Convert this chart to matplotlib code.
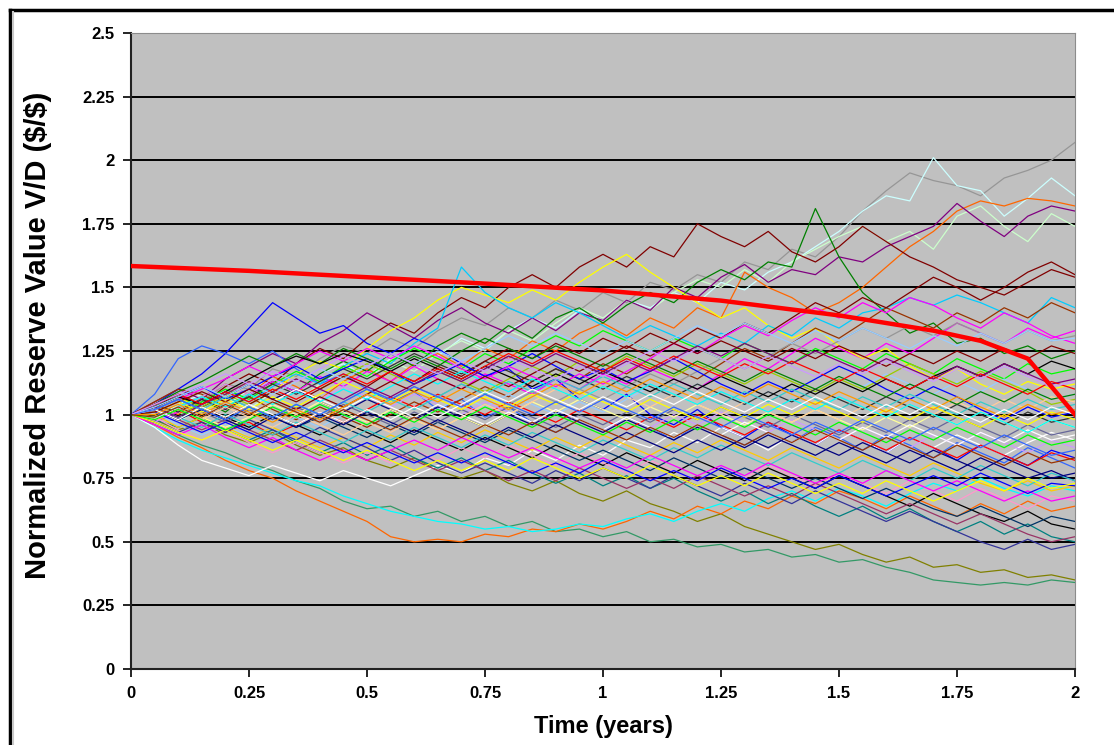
import numpy as np
import matplotlib
matplotlib.use('Agg')
from matplotlib import pyplot as plt
from matplotlib.lines import Line2D

plt.rcParams['font.family'] = ['Liberation Sans', 'DejaVu Sans']

# time grid of the simulated paths (years)
t = np.linspace(0.0, 2.0, 41)

# hand-read Monte Carlo paths (normalized reserve value)
p01 = [1.00, 1.03, 1.08, 1.05, 1.12, 1.10, 1.18, 1.15, 1.22, 1.27, 1.24, 1.30, 1.26, 1.33, 1.38, 1.35, 1.42, 1.38, 1.45, 1.41, 1.48,
       1.44, 1.52, 1.49, 1.55, 1.52, 1.60, 1.57, 1.65, 1.62, 1.70, 1.80, 1.88, 1.95, 1.92, 1.90, 1.86, 1.93, 1.96, 2.00, 2.07]
p02 = [1.00, 0.98, 1.04, 1.08, 1.03, 1.10, 1.14, 1.09, 1.16, 1.20, 1.15, 1.22, 1.27, 1.23, 1.30, 1.26, 1.33, 1.38, 1.34, 1.41, 1.37,
       1.45, 1.42, 1.48, 1.44, 1.52, 1.49, 1.56, 1.60, 1.66, 1.72, 1.80, 1.86, 1.84, 2.01, 1.90, 1.88, 1.78, 1.85, 1.93, 1.86]
p03 = [1.00, 1.02, 0.97, 1.03, 1.07, 1.02, 1.09, 1.05, 1.12, 1.18, 1.14, 1.21, 1.17, 1.24, 1.29, 1.25, 1.33, 1.29, 1.36, 1.42, 1.38,
       1.45, 1.41, 1.48, 1.53, 1.50, 1.57, 1.52, 1.60, 1.65, 1.70, 1.74, 1.68, 1.72, 1.65, 1.78, 1.82, 1.74, 1.68, 1.79, 1.74]
p04 = [1.00, 1.04, 1.00, 1.07, 1.12, 1.08, 1.15, 1.11, 1.06, 1.13, 1.18, 1.13, 1.20, 1.24, 1.19, 1.26, 1.22, 1.29, 1.25, 1.32, 1.36,
       1.31, 1.38, 1.34, 1.42, 1.38, 1.56, 1.50, 1.46, 1.40, 1.44, 1.50, 1.58, 1.66, 1.72, 1.80, 1.84, 1.82, 1.85, 1.84, 1.82]
p05 = [1.00, 1.05, 1.10, 1.06, 1.14, 1.19, 1.24, 1.20, 1.28, 1.33, 1.40, 1.35, 1.30, 1.37, 1.42, 1.36, 1.32, 1.38, 1.33, 1.40, 1.37,
       1.45, 1.41, 1.50, 1.46, 1.54, 1.59, 1.52, 1.57, 1.55, 1.62, 1.60, 1.66, 1.70, 1.74, 1.83, 1.76, 1.70, 1.78, 1.82, 1.80]
p06 = [1.00, 0.97, 1.02, 1.06, 1.01, 1.08, 1.13, 1.09, 1.16, 1.21, 1.17, 1.24, 1.19, 1.27, 1.32, 1.28, 1.35, 1.30, 1.38, 1.42, 1.36,
       1.43, 1.48, 1.44, 1.52, 1.57, 1.53, 1.60, 1.58, 1.81, 1.62, 1.48, 1.40, 1.32, 1.36, 1.28, 1.30, 1.24, 1.27, 1.22, 1.25]
p07 = [1.00, 1.03, 1.08, 1.04, 1.11, 1.16, 1.12, 1.20, 1.26, 1.22, 1.30, 1.36, 1.32, 1.40, 1.46, 1.42, 1.50, 1.55, 1.50, 1.58, 1.63,
       1.58, 1.66, 1.62, 1.75, 1.70, 1.66, 1.72, 1.64, 1.60, 1.66, 1.74, 1.68, 1.62, 1.58, 1.53, 1.50, 1.47, 1.52, 1.57, 1.54]
p08 = [1.00, 1.04, 1.10, 1.16, 1.24, 1.34, 1.44, 1.38, 1.32, 1.35, 1.28, 1.24, 1.30, 1.26, 1.20, 1.15, 1.18, 1.10, 1.14, 1.06, 1.02,
       1.08, 1.00, 0.96, 1.02, 0.95, 0.91, 0.97, 0.92, 0.88, 0.94, 0.90, 0.85, 0.91, 0.87, 0.82, 0.88, 0.84, 0.80, 0.86, 0.83]
p09 = [1.00, 1.08, 1.22, 1.27, 1.24, 1.20, 1.25, 1.18, 1.12, 1.16, 1.10, 1.05, 1.09, 1.02, 1.06, 0.99, 1.03, 0.97, 0.93, 0.98, 0.94,
       0.99, 0.95, 0.90, 0.96, 0.92, 0.88, 0.93, 0.89, 0.95, 0.91, 0.86, 0.92, 0.88, 0.83, 0.89, 0.85, 0.81, 0.87, 0.83, 0.79]
p10 = [1.00, 0.96, 0.92, 0.88, 0.85, 0.81, 0.78, 0.74, 0.71, 0.66, 0.63, 0.64, 0.60, 0.62, 0.58, 0.60, 0.56, 0.58, 0.54, 0.55, 0.52,
       0.54, 0.50, 0.51, 0.48, 0.49, 0.46, 0.47, 0.44, 0.45, 0.42, 0.43, 0.40, 0.38, 0.35, 0.34, 0.33, 0.34, 0.33, 0.35, 0.34]
p11 = [1.00, 0.98, 0.94, 0.97, 0.92, 0.89, 0.93, 0.88, 0.84, 0.87, 0.82, 0.79, 0.83, 0.78, 0.75, 0.78, 0.73, 0.70, 0.74, 0.69, 0.66,
       0.70, 0.65, 0.62, 0.58, 0.61, 0.56, 0.53, 0.50, 0.47, 0.49, 0.45, 0.42, 0.44, 0.40, 0.41, 0.38, 0.39, 0.36, 0.37, 0.35]
p12 = [1.00, 0.96, 0.91, 0.87, 0.82, 0.78, 0.75, 0.70, 0.66, 0.62, 0.58, 0.52, 0.50, 0.51, 0.50, 0.53, 0.52, 0.55, 0.54, 0.57, 0.55,
       0.58, 0.62, 0.59, 0.64, 0.61, 0.66, 0.63, 0.68, 0.65, 0.70, 0.67, 0.63, 0.68, 0.64, 0.60, 0.65, 0.61, 0.66, 0.62, 0.64]
p13 = [1.00, 0.95, 0.90, 0.86, 0.83, 0.80, 0.77, 0.74, 0.72, 0.68, 0.65, 0.62, 0.60, 0.58, 0.57, 0.55, 0.56, 0.54, 0.55, 0.57, 0.56,
       0.59, 0.61, 0.58, 0.62, 0.65, 0.62, 0.67, 0.70, 0.66, 0.71, 0.68, 0.64, 0.69, 0.73, 0.70, 0.75, 0.71, 0.68, 0.72, 0.70]
p14 = [1.00, 0.95, 0.88, 0.82, 0.79, 0.76, 0.80, 0.77, 0.74, 0.78, 0.75, 0.72, 0.76, 0.80, 0.77, 0.83, 0.80, 0.86, 0.82, 0.88, 0.84,
       0.90, 0.87, 0.93, 0.89, 0.95, 0.91, 0.86, 0.92, 0.88, 0.94, 0.90, 0.85, 0.91, 0.87, 0.92, 0.88, 0.84, 0.89, 0.93, 0.90]
p15 = [1.00, 1.02, 0.98, 1.03, 0.99, 0.95, 1.00, 0.96, 0.92, 0.97, 0.93, 0.89, 0.94, 0.90, 0.86, 0.91, 0.87, 0.83, 0.88, 0.84, 0.80,
       0.85, 0.81, 0.77, 0.82, 0.78, 0.74, 0.79, 0.75, 0.71, 0.76, 0.72, 0.68, 0.64, 0.69, 0.65, 0.61, 0.58, 0.62, 0.57, 0.55]
p16 = [1.00, 1.04, 1.08, 1.03, 1.07, 1.12, 1.06, 1.10, 1.05, 1.01, 1.06, 1.02, 0.98, 1.03, 0.99, 0.95, 1.00, 0.96, 1.01, 0.97, 0.93,
       0.98, 0.94, 0.90, 0.95, 0.91, 0.87, 0.92, 0.88, 0.84, 0.89, 0.85, 0.81, 0.86, 0.82, 0.78, 0.83, 0.79, 0.75, 0.78, 0.74]
p17 = [1.00, 0.97, 1.01, 1.06, 1.02, 1.08, 1.13, 1.09, 1.15, 1.11, 1.17, 1.13, 1.19, 1.14, 1.10, 1.16, 1.12, 1.08, 1.14, 1.10, 1.16,
       1.12, 1.18, 1.14, 1.10, 1.16, 1.22, 1.18, 1.24, 1.30, 1.26, 1.22, 1.28, 1.24, 1.30, 1.36, 1.32, 1.28, 1.34, 1.30, 1.33]
p18 = [1.00, 1.03, 1.07, 1.02, 1.08, 1.13, 1.09, 1.16, 1.21, 1.18, 1.26, 1.33, 1.38, 1.45, 1.50, 1.47, 1.44, 1.49, 1.45, 1.52, 1.58,
       1.63, 1.56, 1.50, 1.44, 1.38, 1.42, 1.35, 1.30, 1.34, 1.27, 1.22, 1.26, 1.19, 1.14, 1.18, 1.12, 1.08, 1.13, 1.10, 1.12]
p19 = [1.00, 1.02, 0.98, 1.04, 1.09, 1.05, 1.11, 1.16, 1.12, 1.19, 1.24, 1.20, 1.28, 1.34, 1.58, 1.48, 1.42, 1.38, 1.44, 1.40, 1.35,
       1.30, 1.35, 1.31, 1.27, 1.32, 1.28, 1.35, 1.31, 1.38, 1.34, 1.40, 1.42, 1.46, 1.43, 1.47, 1.44, 1.40, 1.36, 1.46, 1.42]
p20 = [1.00, 0.98, 1.02, 0.97, 0.93, 0.97, 0.92, 0.96, 1.01, 0.97, 1.02, 1.07, 1.03, 1.08, 1.04, 1.00, 1.05, 1.01, 0.97, 1.02, 0.98,
       0.94, 0.99, 0.95, 1.00, 0.96, 0.92, 0.97, 0.93, 0.89, 0.94, 0.90, 0.86, 0.91, 0.87, 0.83, 0.88, 0.84, 0.80, 0.85, 0.82]
p21 = [1.00, 1.03, 0.99, 1.05, 1.10, 1.06, 1.12, 1.17, 1.13, 1.19, 1.15, 1.21, 1.26, 1.22, 1.18, 1.24, 1.20, 1.26, 1.31, 1.27, 1.33,
       1.29, 1.25, 1.30, 1.26, 1.22, 1.28, 1.24, 1.20, 1.26, 1.22, 1.18, 1.24, 1.20, 1.16, 1.22, 1.18, 1.14, 1.20, 1.16, 1.18]
p22 = [1.00, 0.98, 0.95, 0.99, 0.94, 0.90, 0.94, 0.89, 0.85, 0.89, 0.84, 0.88, 0.83, 0.79, 0.83, 0.78, 0.82, 0.77, 0.73, 0.77, 0.72,
       0.76, 0.71, 0.75, 0.70, 0.66, 0.70, 0.65, 0.69, 0.64, 0.60, 0.64, 0.59, 0.63, 0.58, 0.54, 0.58, 0.53, 0.57, 0.52, 0.50]
p23 = [1.00, 1.05, 1.10, 1.08, 1.03, 1.07, 1.02, 0.98, 1.03, 0.99, 0.95, 1.00, 1.05, 1.01, 1.06, 1.11, 1.07, 1.13, 1.18, 1.14, 1.20,
       1.16, 1.22, 1.18, 1.14, 1.20, 1.26, 1.22, 1.28, 1.34, 1.30, 1.36, 1.42, 1.38, 1.34, 1.40, 1.36, 1.42, 1.38, 1.44, 1.40]
p24 = [1.00, 0.97, 1.02, 1.07, 1.12, 1.08, 1.14, 1.10, 1.06, 1.11, 1.07, 1.03, 1.08, 1.04, 1.00, 1.05, 1.01, 0.97, 1.02, 0.98, 0.94,
       0.99, 0.95, 1.00, 0.96, 1.01, 0.97, 0.93, 0.98, 0.94, 0.90, 0.95, 0.91, 0.87, 0.92, 0.88, 0.93, 0.89, 0.85, 0.90, 0.87]
p25 = [1.00, 1.01, 0.96, 0.92, 0.96, 0.91, 0.95, 0.99, 0.95, 1.00, 0.96, 1.01, 0.97, 1.02, 1.07, 1.03, 1.08, 1.04, 1.00, 1.05, 1.01,
       1.06, 1.11, 1.07, 1.12, 1.08, 1.04, 1.09, 1.05, 1.10, 1.15, 1.11, 1.16, 1.12, 1.08, 1.13, 1.09, 1.14, 1.10, 1.06, 1.08]
p26 = [1.00, 0.99, 0.94, 0.90, 0.94, 0.89, 0.85, 0.89, 0.85, 0.81, 0.85, 0.81, 0.86, 0.82, 0.87, 0.83, 0.88, 0.84, 0.80, 0.85, 0.81,
       0.77, 0.82, 0.78, 0.74, 0.79, 0.75, 0.80, 0.76, 0.72, 0.77, 0.73, 0.69, 0.74, 0.70, 0.66, 0.71, 0.67, 0.63, 0.68, 0.66]
p27 = [1.00, 1.02, 1.06, 1.02, 0.98, 1.03, 0.99, 0.95, 0.99, 0.95, 0.91, 0.96, 0.92, 0.97, 0.93, 0.89, 0.94, 0.90, 0.86, 0.82, 0.86,
       0.82, 0.78, 0.83, 0.79, 0.75, 0.79, 0.75, 0.71, 0.75, 0.71, 0.67, 0.71, 0.67, 0.63, 0.60, 0.64, 0.60, 0.56, 0.60, 0.58]
p28 = [1.00, 1.00, 0.95, 0.99, 0.95, 0.91, 0.95, 0.91, 0.87, 0.91, 0.87, 0.92, 0.88, 0.93, 0.89, 0.94, 0.90, 0.86, 0.91, 0.87, 0.92,
       0.88, 0.84, 0.89, 0.85, 0.90, 0.86, 0.82, 0.87, 0.83, 0.79, 0.84, 0.80, 0.76, 0.81, 0.77, 0.73, 0.70, 0.74, 0.70, 0.72]
p29 = [1.00, 1.03, 1.07, 1.03, 1.08, 1.04, 1.09, 1.14, 1.10, 1.15, 1.20, 1.16, 1.12, 1.17, 1.13, 1.09, 1.14, 1.19, 1.15, 1.21, 1.17,
       1.23, 1.19, 1.15, 1.20, 1.16, 1.12, 1.17, 1.13, 1.09, 1.14, 1.10, 1.15, 1.20, 1.16, 1.12, 1.17, 1.13, 1.09, 1.04, 1.06]
p30 = [1.00, 0.97, 0.93, 0.97, 0.93, 0.98, 0.94, 0.90, 0.95, 0.91, 0.87, 0.82, 0.86, 0.81, 0.77, 0.81, 0.77, 0.73, 0.78, 0.74, 0.79,
       0.75, 0.71, 0.76, 0.72, 0.68, 0.73, 0.69, 0.65, 0.70, 0.66, 0.62, 0.58, 0.62, 0.58, 0.54, 0.50, 0.47, 0.51, 0.47, 0.49]
p31 = [1.00, 1.02, 0.98, 0.94, 0.98, 0.94, 0.90, 0.86, 0.90, 0.86, 0.82, 0.86, 0.82, 0.78, 0.82, 0.78, 0.74, 0.78, 0.74, 0.79, 0.75,
       0.71, 0.75, 0.71, 0.76, 0.72, 0.68, 0.72, 0.68, 0.73, 0.69, 0.65, 0.61, 0.65, 0.61, 0.57, 0.61, 0.57, 0.53, 0.50, 0.52]
p32 = [1.00, 1.01, 1.05, 1.01, 0.97, 1.02, 0.98, 1.03, 0.99, 1.04, 1.00, 0.96, 1.01, 0.97, 1.02, 0.98, 1.03, 0.99, 0.95, 1.00, 0.96,
       1.01, 0.97, 1.02, 0.98, 1.03, 0.99, 0.95, 1.00, 0.96, 0.92, 0.97, 0.93, 0.98, 0.94, 0.99, 0.95, 0.91, 0.96, 0.92, 0.94]
p33 = [1.00, 0.99, 1.03, 0.99, 0.95, 0.99, 1.04, 1.00, 1.05, 1.01, 0.97, 1.02, 0.98, 0.94, 0.99, 0.95, 1.00, 1.05, 1.01, 1.06, 1.02,
       0.98, 1.03, 0.99, 1.04, 1.00, 0.96, 1.01, 0.97, 1.02, 0.98, 0.94, 0.99, 0.95, 1.00, 0.96, 1.01, 0.97, 0.93, 0.98, 0.95]
p34 = [1.00, 1.03, 0.99, 0.95, 1.00, 0.96, 0.92, 0.97, 0.93, 0.89, 0.94, 0.90, 0.95, 0.91, 0.87, 0.92, 0.88, 0.93, 0.89, 0.85, 0.90,
       0.86, 0.82, 0.87, 0.83, 0.88, 0.84, 0.80, 0.85, 0.81, 0.77, 0.82, 0.78, 0.74, 0.79, 0.75, 0.80, 0.76, 0.72, 0.77, 0.74]
p35 = [1.00, 1.04, 1.01, 1.06, 1.02, 1.07, 1.12, 1.08, 1.13, 1.18, 1.14, 1.19, 1.24, 1.20, 1.16, 1.21, 1.17, 1.13, 1.18, 1.14, 1.10,
       1.15, 1.11, 1.07, 1.12, 1.08, 1.04, 1.09, 1.05, 1.10, 1.06, 1.02, 1.07, 1.03, 0.99, 1.04, 1.00, 0.96, 1.01, 0.97, 0.99]
p36 = [1.00, 0.98, 1.02, 0.98, 1.03, 0.99, 0.95, 1.00, 0.96, 0.92, 0.97, 0.93, 0.98, 0.94, 0.99, 1.04, 1.00, 1.05, 1.10, 1.06, 1.11,
       1.07, 1.03, 1.08, 1.04, 1.00, 1.05, 1.01, 0.97, 1.02, 0.98, 1.03, 0.99, 1.04, 1.00, 1.05, 1.01, 1.06, 1.02, 1.07, 1.05]
p37 = [1.00, 0.96, 0.92, 0.96, 0.91, 0.87, 0.91, 0.86, 0.82, 0.86, 0.82, 0.86, 0.90, 0.86, 0.91, 0.87, 0.83, 0.87, 0.83, 0.79, 0.83,
       0.79, 0.84, 0.80, 0.76, 0.80, 0.76, 0.81, 0.77, 0.73, 0.77, 0.73, 0.78, 0.74, 0.70, 0.74, 0.70, 0.66, 0.70, 0.66, 0.68]
p38 = [1.00, 1.01, 0.97, 0.93, 0.97, 0.93, 0.89, 0.93, 0.89, 0.85, 0.89, 0.85, 0.81, 0.85, 0.81, 0.85, 0.81, 0.77, 0.81, 0.77, 0.82,
       0.78, 0.74, 0.78, 0.74, 0.79, 0.75, 0.71, 0.75, 0.71, 0.76, 0.72, 0.68, 0.72, 0.76, 0.72, 0.77, 0.73, 0.69, 0.73, 0.72]
p39 = [1.00, 1.02, 1.06, 1.02, 1.07, 1.03, 0.99, 1.04, 1.00, 1.05, 1.10, 1.06, 1.11, 1.07, 1.12, 1.08, 1.04, 1.09, 1.05, 1.10, 1.06,
       1.11, 1.16, 1.12, 1.17, 1.22, 1.18, 1.23, 1.28, 1.24, 1.29, 1.34, 1.30, 1.35, 1.31, 1.36, 1.32, 1.28, 1.33, 1.29, 1.31]
p40 = [1.00, 1.02, 0.98, 1.03, 0.99, 1.04, 1.09, 1.05, 1.10, 1.15, 1.11, 1.17, 1.13, 1.19, 1.15, 1.21, 1.26, 1.22, 1.28, 1.24, 1.30,
       1.26, 1.32, 1.28, 1.34, 1.30, 1.36, 1.32, 1.38, 1.44, 1.40, 1.46, 1.42, 1.48, 1.54, 1.50, 1.45, 1.50, 1.56, 1.60, 1.55]
p41 = [1.00, 0.98, 1.03, 0.99, 1.04, 1.00, 1.05, 1.10, 1.06, 1.02, 1.07, 1.03, 0.99, 1.04, 1.00, 0.96, 1.01, 0.97, 1.02, 0.98, 0.94,
       0.99, 0.95, 0.91, 0.96, 0.92, 0.97, 0.93, 0.89, 0.94, 0.90, 0.95, 0.91, 0.96, 0.92, 0.88, 0.93, 0.89, 0.94, 0.90, 0.92]
p42 = [1.00, 0.97, 0.93, 0.90, 0.94, 0.90, 0.86, 0.90, 0.86, 0.82, 0.86, 0.82, 0.78, 0.82, 0.78, 0.82, 0.78, 0.83, 0.79, 0.75, 0.79,
       0.75, 0.80, 0.76, 0.72, 0.76, 0.72, 0.77, 0.73, 0.69, 0.73, 0.69, 0.74, 0.70, 0.66, 0.70, 0.74, 0.70, 0.75, 0.71, 0.73]
p43 = [1.00, 1.03, 1.07, 1.11, 1.06, 1.10, 1.15, 1.19, 1.14, 1.18, 1.22, 1.17, 1.12, 1.16, 1.20, 1.15, 1.19, 1.24, 1.19, 1.14, 1.18,
       1.13, 1.17, 1.22, 1.17, 1.12, 1.08, 1.13, 1.09, 1.14, 1.19, 1.15, 1.10, 1.06, 1.11, 1.07, 1.02, 0.98, 1.03, 0.99, 1.01]
p44 = [1.00, 1.02, 1.06, 1.10, 1.14, 1.19, 1.15, 1.20, 1.25, 1.21, 1.26, 1.22, 1.27, 1.23, 1.18, 1.14, 1.19, 1.15, 1.11, 1.16, 1.12,
       1.17, 1.22, 1.28, 1.24, 1.30, 1.35, 1.31, 1.37, 1.42, 1.38, 1.44, 1.40, 1.46, 1.43, 1.38, 1.34, 1.40, 1.36, 1.31, 1.28]
p45 = [1.00, 1.04, 1.09, 1.13, 1.18, 1.23, 1.19, 1.24, 1.20, 1.26, 1.22, 1.18, 1.23, 1.19, 1.25, 1.30, 1.26, 1.22, 1.27, 1.23, 1.19,
       1.24, 1.20, 1.16, 1.21, 1.17, 1.13, 1.18, 1.14, 1.10, 1.15, 1.11, 1.07, 1.12, 1.08, 1.04, 1.09, 1.05, 1.10, 1.06, 1.08]
p46 = [1.00, 1.01, 1.05, 1.01, 1.06, 1.02, 1.07, 1.03, 1.08, 1.13, 1.09, 1.05, 1.10, 1.06, 1.02, 1.07, 1.03, 1.08, 1.04, 1.09, 1.05,
       1.01, 1.06, 1.02, 0.98, 1.03, 0.99, 1.04, 1.00, 1.05, 1.01, 0.97, 1.02, 0.98, 1.03, 0.99, 0.95, 1.00, 0.96, 1.01, 0.98]
p47 = [1.00, 1.03, 1.07, 1.04, 1.09, 1.14, 1.19, 1.23, 1.20, 1.24, 1.21, 1.17, 1.22, 1.18, 1.14, 1.19, 1.15, 1.11, 1.16, 1.12, 1.17,
       1.13, 1.09, 1.14, 1.10, 1.15, 1.11, 1.07, 1.12, 1.08, 1.13, 1.09, 1.14, 1.10, 1.15, 1.19, 1.15, 1.20, 1.16, 1.21, 1.18]
p48 = [1.00, 0.99, 1.03, 1.07, 1.03, 1.08, 1.04, 1.09, 1.05, 1.10, 1.06, 1.11, 1.16, 1.12, 1.17, 1.13, 1.09, 1.14, 1.10, 1.06, 1.11,
       1.07, 1.12, 1.08, 1.04, 1.09, 1.05, 1.01, 1.06, 1.02, 1.07, 1.03, 0.99, 1.04, 1.00, 0.96, 1.01, 0.97, 0.93, 0.98, 0.95]
p49 = [1.00, 1.03, 0.99, 1.04, 1.08, 1.13, 1.09, 1.14, 1.10, 1.06, 1.11, 1.07, 1.12, 1.17, 1.13, 1.18, 1.23, 1.19, 1.24, 1.20, 1.16,
       1.21, 1.17, 1.22, 1.27, 1.23, 1.28, 1.24, 1.20, 1.25, 1.21, 1.17, 1.22, 1.18, 1.14, 1.19, 1.15, 1.20, 1.16, 1.12, 1.14]
p50 = [1.00, 1.04, 1.08, 1.04, 1.09, 1.05, 1.10, 1.06, 1.11, 1.16, 1.12, 1.17, 1.13, 1.18, 1.14, 1.19, 1.24, 1.20, 1.25, 1.21, 1.17,
       1.22, 1.18, 1.23, 1.19, 1.15, 1.20, 1.16, 1.21, 1.17, 1.13, 1.18, 1.14, 1.10, 1.15, 1.11, 1.16, 1.12, 1.08, 1.13, 1.10]
p51 = [1.00, 0.98, 1.02, 0.98, 0.94, 0.98, 1.03, 0.99, 1.04, 1.00, 0.96, 1.01, 0.97, 1.02, 0.98, 1.03, 0.99, 0.95, 1.00, 0.96, 0.92,
       0.97, 0.93, 0.98, 0.94, 0.99, 0.95, 1.00, 0.96, 0.92, 0.97, 0.93, 0.89, 0.94, 0.90, 0.95, 0.91, 0.87, 0.92, 0.88, 0.90]
p52 = [1.00, 1.02, 0.98, 1.02, 0.98, 0.94, 0.99, 0.95, 1.00, 0.96, 1.01, 0.97, 0.93, 0.98, 0.94, 0.90, 0.95, 0.91, 0.96, 0.92, 0.88,
       0.93, 0.89, 0.85, 0.90, 0.86, 0.91, 0.87, 0.92, 0.88, 0.84, 0.89, 0.85, 0.81, 0.86, 0.82, 0.78, 0.83, 0.79, 0.75, 0.77]
p53 = [1.00, 1.01, 1.05, 1.09, 1.05, 1.10, 1.06, 1.02, 1.07, 1.03, 1.08, 1.13, 1.09, 1.14, 1.10, 1.15, 1.11, 1.16, 1.21, 1.17, 1.22,
       1.27, 1.23, 1.28, 1.24, 1.29, 1.25, 1.21, 1.26, 1.22, 1.27, 1.23, 1.19, 1.24, 1.20, 1.25, 1.21, 1.26, 1.22, 1.27, 1.24]
p54 = [1.00, 1.02, 1.06, 1.02, 1.07, 1.03, 0.99, 1.04, 1.00, 1.05, 1.01, 1.06, 1.02, 1.07, 1.12, 1.08, 1.13, 1.09, 1.14, 1.10, 1.15,
       1.11, 1.07, 1.12, 1.08, 1.04, 1.09, 1.05, 1.10, 1.06, 1.02, 1.07, 1.03, 1.08, 1.04, 1.00, 1.05, 1.01, 1.06, 1.02, 1.04]
p55 = [1.00, 1.00, 1.04, 1.00, 1.05, 1.01, 0.97, 1.02, 0.98, 1.03, 1.08, 1.04, 1.09, 1.05, 1.10, 1.06, 1.02, 1.07, 1.12, 1.08, 1.13,
       1.09, 1.14, 1.10, 1.06, 1.11, 1.07, 1.12, 1.08, 1.04, 1.09, 1.05, 1.01, 1.06, 1.02, 1.07, 1.03, 0.99, 1.04, 1.00, 1.02]
p56 = [1.00, 1.03, 1.07, 1.11, 1.07, 1.12, 1.08, 1.13, 1.18, 1.14, 1.19, 1.24, 1.20, 1.25, 1.21, 1.26, 1.31, 1.27, 1.32, 1.28, 1.24,
       1.29, 1.25, 1.30, 1.35, 1.31, 1.36, 1.32, 1.28, 1.33, 1.29, 1.34, 1.30, 1.26, 1.31, 1.27, 1.32, 1.28, 1.33, 1.29, 1.30]
p57 = [1.00, 1.02, 0.98, 1.03, 0.99, 1.04, 1.00, 0.96, 1.01, 0.97, 1.02, 0.98, 1.03, 0.99, 1.04, 1.09, 1.05, 1.10, 1.06, 1.02, 1.07,
       1.03, 1.08, 1.04, 1.09, 1.05, 1.01, 1.06, 1.02, 1.07, 1.03, 0.99, 1.04, 1.00, 1.05, 1.01, 0.97, 1.02, 0.98, 1.03, 1.00]
p58 = [1.00, 1.02, 1.06, 1.02, 0.98, 1.03, 0.99, 1.04, 1.00, 1.05, 1.10, 1.06, 1.11, 1.07, 1.03, 1.08, 1.04, 1.00, 1.05, 1.01, 1.06,
       1.02, 0.98, 1.03, 0.99, 0.95, 1.00, 0.96, 0.92, 0.97, 0.93, 0.98, 0.94, 0.90, 0.95, 0.91, 0.87, 0.92, 0.88, 0.84, 0.86]
p59 = [1.00, 1.04, 1.08, 1.12, 1.16, 1.12, 1.17, 1.13, 1.18, 1.23, 1.19, 1.24, 1.20, 1.16, 1.21, 1.17, 1.22, 1.18, 1.14, 1.19, 1.15,
       1.20, 1.25, 1.21, 1.26, 1.22, 1.18, 1.23, 1.19, 1.15, 1.20, 1.16, 1.21, 1.17, 1.13, 1.18, 1.14, 1.19, 1.15, 1.11, 1.13]
p60 = [1.00, 0.99, 1.03, 0.99, 1.04, 1.00, 1.05, 1.01, 0.97, 1.02, 0.98, 0.94, 0.99, 0.95, 0.91, 0.96, 0.92, 0.97, 0.93, 0.98, 0.94,
       0.90, 0.95, 0.91, 0.96, 0.92, 0.88, 0.93, 0.89, 0.94, 0.90, 0.86, 0.91, 0.87, 0.83, 0.88, 0.84, 0.80, 0.85, 0.81, 0.83]

paths = [p01, p02, p03, p04, p05, p06, p07, p08, p09, p10, p11, p12, p13, p14, p15,
         p16, p17, p18, p19, p20, p21, p22, p23, p24, p25, p26, p27, p28, p29, p30,
         p31, p32, p33, p34, p35, p36, p37, p38, p39, p40, p41, p42, p43, p44, p45,
         p46, p47, p48, p49, p50, p51, p52, p53, p54, p55, p56, p57, p58, p59, p60]

# exercise boundary (thick red line)
bound_t = [0.0, 0.25, 0.5, 0.75, 1.0, 1.25, 1.5, 1.6, 1.7, 1.8, 1.9, 2.0]
bound_v = [1.584, 1.565, 1.54, 1.515, 1.488, 1.448, 1.39, 1.36, 1.33, 1.29, 1.22, 1.0]

colors = ['#969696', '#CCFFFF', '#CCFFCC', '#FF6600', '#800080', '#008000', '#800000',
          '#0000FF', '#3366FF', '#339966', '#808000', '#FF6600', '#00FFFF', '#FFFFFF',
          '#000000', '#000080', '#FF00FF', '#FFFF00', '#00CCFF', '#FF0000', '#00FF00',
          '#008080', '#993300', '#CC99FF', '#99CCFF', '#FF99CC', '#003366', '#FFCC00',
          '#99CC00', '#333399', '#993366', '#666699', '#FFFF99', '#33CCCC', '#333333',
          '#FFCC99', '#FF00FF', '#0000FF', '#969696', '#800000', '#FFFFFF', '#FFFF00',
          '#0000FF', '#FF00FF', '#008000', '#FFFF00', '#000000', '#00FFFF', '#800080',
          '#FF0000', '#00FF00', '#000080', '#800000', '#33CCCC', '#FF9900', '#99CCFF',
          '#FFFFFF', '#3366FF', '#CC99FF', '#993300']

fig = plt.figure(figsize=(11.14, 7.45), dpi=100)
ax = fig.add_axes([131 / 1114, 1 - 669 / 745, 944 / 1114, 636 / 745])
ax.set_facecolor('#C0C0C0')

for v in np.arange(0.25, 2.5, 0.25):
  ax.axhline(v, color='black', lw=1.4, zorder=1)

for p, c in zip(paths, colors):
  ax.plot(t, p, color=c, lw=0.9, zorder=2)

ax.plot(bound_t, bound_v, color='#FF0000', lw=3.2, zorder=3)

ax.set_xlim(0, 2)
ax.set_ylim(0, 2.5)
ax.set_xticks(np.arange(0, 2.01, 0.25))
ax.set_xticklabels(['0', '0.25', '0.5', '0.75', '1', '1.25', '1.5', '1.75', '2'])
ax.set_yticks(np.arange(0, 2.51, 0.25))
ax.set_yticklabels(['0', '0.25', '0.5', '0.75', '1', '1.25', '1.5', '1.75', '2', '2.25', '2.5'])
ax.tick_params(direction='out', length=6, width=1.2, colors='black', labelsize=12, pad=6)
for lab in ax.get_xticklabels() + ax.get_yticklabels():
  lab.set_fontweight('bold')

ax.spines['left'].set_color('#222222')
ax.spines['bottom'].set_color('#222222')
ax.spines['left'].set_linewidth(1.5)
ax.spines['bottom'].set_linewidth(1.5)
ax.spines['top'].set_color('#8c8c8c')
ax.spines['right'].set_color('#8c8c8c')

fig.text(38 / 1114, 1 - 335 / 745, r'Normalized Reserve Value V/D (\$/\$)', rotation=90,
         ha='center', va='center', fontsize=21, fontweight='bold')
fig.text(603 / 1114, 1 - 727 / 745, 'Time (years)', ha='center', va='center',
         fontsize=17, fontweight='bold')

# outer frame (cut at right and bottom)
fig.add_artist(Line2D([9.5 / 1114, 9.5 / 1114], [0, 1 - 9.5 / 745], color='black', lw=2.5))
fig.add_artist(Line2D([9.5 / 1114, 1], [1 - 9.5 / 745, 1 - 9.5 / 745], color='black', lw=2.5))
fig.add_artist(Line2D([12.5 / 1114, 12.5 / 1114], [0, 1 - 12 / 745], color='#c8c8c8', lw=1.5))

plt.savefig('out.png', dpi=100)
